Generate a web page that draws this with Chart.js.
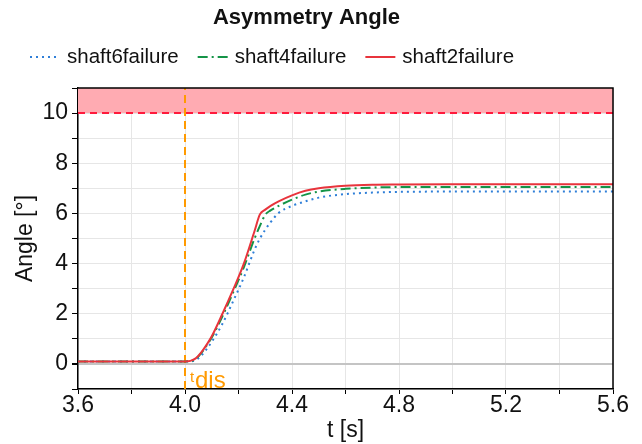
<!DOCTYPE html>
<html>
<head>
<meta charset="utf-8">
<script src="https://cdn.jsdelivr.net/npm/chart.js@4/dist/chart.umd.min.js"></script>
<style>html,body{margin:0;background:#fff}</style>
</head>
<body>
<canvas id="chart" width="642" height="444"></canvas>
<script>
// time axis (s) and the three failure cases
const TIME   = [3.6, 4.0, 4.02, 4.04, 4.06, 4.08, 4.1, 4.14, 4.18, 4.22, 4.26, 4.28, 4.3, 4.32, 4.35, 4.4, 4.45, 4.5, 4.6, 4.7, 4.8, 5.0, 5.6];
const SHAFT6 = [0.1, 0.1, 0.1, 0.15, 0.32, 0.58, 0.88, 1.6, 2.5, 3.45, 4.55, 5.0, 5.35, 5.65, 6.02, 6.3, 6.48, 6.63, 6.77, 6.83, 6.86, 6.87, 6.87];
const SHAFT4 = [0.1, 0.1, 0.11, 0.2, 0.42, 0.72, 1.05, 1.9, 2.85, 3.85, 5.0, 5.5, 5.95, 6.12, 6.3, 6.55, 6.75, 6.87, 6.98, 7.03, 7.05, 7.05, 7.05];
const SHAFT2 = [0.1, 0.1, 0.12, 0.22, 0.45, 0.75, 1.1, 2.0, 2.96, 4.0, 5.3, 5.96, 6.15, 6.3, 6.48, 6.72, 6.9, 7.0, 7.1, 7.14, 7.15, 7.16, 7.16];

const X_RANGE = [3.6, 5.6];
const Y_RANGE = [-1, 11];
const LIMIT = 10;
const T_DIS = 4.0;

const FONT = 'Liberation Sans, Arial, sans-serif';
const pts = ys => TIME.map((t, i) => ({ x: t, y: ys[i] }));

// legend row drawn by hand so the line samples keep their dash patterns
const legendPlugin = {
  id: 'lineLegend',
  afterDraw(chart) {
    const { ctx } = chart;
    ctx.save();
    ctx.font = '20.5px ' + FONT;
    ctx.textBaseline = 'middle';
    const y = 57;
    let x = 30;
    chart.data.datasets.slice(0, 3).forEach(ds => {
      ctx.strokeStyle = ds.borderColor;
      ctx.lineWidth = 2;
      ctx.setLineDash(ds.borderDash || []);
      ctx.beginPath();
      ctx.moveTo(x, y);
      ctx.lineTo(x + 30, y);
      ctx.stroke();
      ctx.setLineDash([]);
      ctx.fillStyle = '#111';
      ctx.fillText(ds.label, x + 37, y);
      x += 37 + ctx.measureText(ds.label).width + 19;
    });
    ctx.restore();
  }
};

const framePlugin = {
  id: 'frame',
  afterDatasetsDraw(chart) {
    const { ctx, chartArea: a, scales } = chart;
    ctx.save();
    ctx.strokeStyle = '#000';
    ctx.lineWidth = 1.5;
    ctx.beginPath();
    ctx.moveTo(a.left, a.top);
    ctx.lineTo(a.right, a.top);
    ctx.lineTo(a.right, a.bottom);
    ctx.stroke();
    // t_dis label next to the disturbance line
    const x = scales.x.getPixelForValue(T_DIS);
    const y = scales.y.getPixelForValue(-1);
    ctx.fillStyle = '#ff9a00';
    ctx.textBaseline = 'alphabetic';
    ctx.font = '15px ' + FONT;
    ctx.fillText('t', x + 5, y - 7);
    ctx.font = '24px ' + FONT;
    ctx.fillText('dis', x + 10, y - 1);
    ctx.restore();
  }
};

new Chart(document.getElementById('chart'), {
  type: 'line',
  data: {
    datasets: [
      { label: 'shaft6failure', data: pts(SHAFT6), borderColor: '#2f7fd8', borderWidth: 2, borderDash: [2, 4], pointRadius: 0, cubicInterpolationMode: 'monotone', order: 3 },
      { label: 'shaft4failure', data: pts(SHAFT4), borderColor: '#149447', borderWidth: 2, borderDash: [10, 4, 2, 4], pointRadius: 0, cubicInterpolationMode: 'monotone', order: 2 },
      { label: 'shaft2failure', data: pts(SHAFT2), borderColor: '#e8343c', borderWidth: 2, pointRadius: 0, cubicInterpolationMode: 'monotone', order: 1 },
      { label: 'limit', data: [{ x: X_RANGE[0], y: LIMIT }, { x: X_RANGE[1], y: LIMIT }], borderColor: '#ff1a3c', borderWidth: 2, borderDash: [7, 5], pointRadius: 0, order: 5 },
      { label: 'band', data: [{ x: X_RANGE[0], y: Y_RANGE[1] }, { x: X_RANGE[1], y: Y_RANGE[1] }], borderWidth: 0, borderColor: 'rgba(0,0,0,0)', backgroundColor: '#ffabb2', fill: { value: LIMIT }, pointRadius: 0, order: 6 },
      { label: 'tdis', data: [{ x: T_DIS, y: Y_RANGE[0] }, { x: T_DIS, y: Y_RANGE[1] }], borderColor: '#ff9a00', borderWidth: 2, borderDash: [8, 5], pointRadius: 0, order: 4 }
    ]
  },
  options: {
    responsive: false,
    animation: false,
    layout: { padding: { top: 0, right: 29, left: 0, bottom: 0 } },
    plugins: {
      tooltip: { enabled: false },
      legend: { display: false },
      title: {
        display: true, text: 'Asymmetry Angle', color: '#111',
        font: { family: FONT, size: 22, weight: 'bold' }, padding: { top: 5, bottom: 56.6 }
      }
    },
    scales: {
      x: {
        type: 'linear', min: X_RANGE[0], max: X_RANGE[1],
        afterFit: s => { s.height = 55; },
        title: { display: true, text: 't [s]', color: '#111', font: { family: FONT, size: 23 }, padding: 0 },
        ticks: {
          stepSize: 0.2, autoSkip: false, maxRotation: 0, padding: -2, color: '#111',
          font: { family: FONT, size: 23 },
          callback: v => Math.round(v * 10) % 4 === 0 ? v.toFixed(1) : ''
        },
        grid: { color: '#e6e6e6', tickLength: 5, tickColor: '#000' },
        border: { color: '#000', width: 1.5 }
      },
      y: {
        min: Y_RANGE[0], max: Y_RANGE[1],
        afterFit: s => { s.width = 78; },
        title: { display: true, text: 'Angle [°]', color: '#111', font: { family: FONT, size: 23 }, padding: { top: 12, bottom: 0 } },
        ticks: {
          stepSize: 1, autoSkip: false, padding: 4, color: '#111',
          font: { family: FONT, size: 23 },
          callback: v => (v % 2 === 0 && v >= 0 && v <= 10) ? String(v) : ''
        },
        grid: {
          color: c => c.tick && c.tick.value === 0 ? '#c4c4c4' : '#e6e6e6',
          lineWidth: c => c.tick && c.tick.value === 0 ? 2 : 1,
          tickLength: 6, tickColor: '#000'
        },
        border: { color: '#000', width: 1.5 }
      }
    }
  },
  plugins: [framePlugin, legendPlugin]
});
</script>
</body>
</html>
